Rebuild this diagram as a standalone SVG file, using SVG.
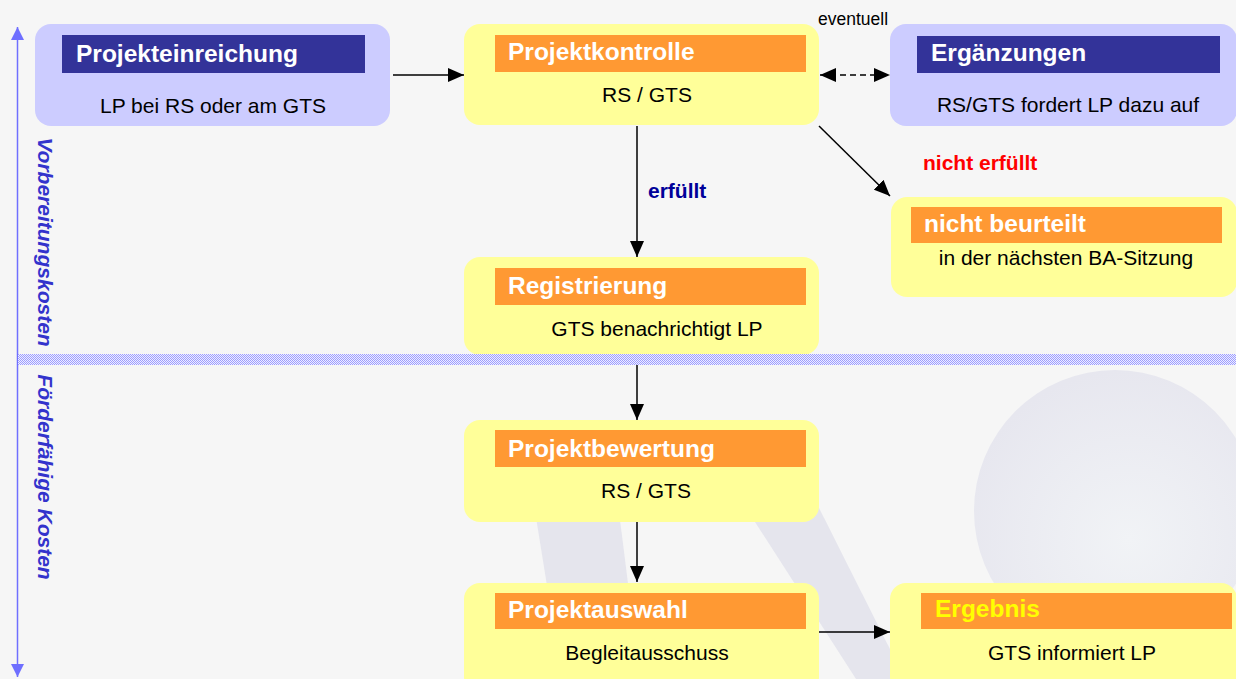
<svg xmlns="http://www.w3.org/2000/svg" width="1236" height="679" viewBox="0 0 1236 679">
<defs>
<style>
.bg{fill:#f6f6f6}
.box-y{fill:#ffff99}
.box-l{fill:#ccccff}
.hd-o{fill:#ff9933}
.hd-b{fill:#333399}
.ht{font-family:"Liberation Sans",Arial,sans-serif;font-weight:bold;font-size:24.5px;fill:#ffffff}
.bt{font-family:"Liberation Sans",Arial,sans-serif;font-size:21px;fill:#000000;text-anchor:middle}
.lbl{font-family:"Liberation Sans",Arial,sans-serif;font-weight:bold;font-size:21px}
.side{font-family:"Liberation Sans",Arial,sans-serif;font-weight:bold;font-style:italic;font-size:21px;fill:#3333cc;text-anchor:middle}
.conn{stroke:#000000;stroke-width:1.5;fill:none}
.swoosh{fill:#e5e5ed}
</style>
<marker id="ah" markerUnits="userSpaceOnUse" markerWidth="16" markerHeight="14" viewBox="0 0 16 14" refX="16" refY="7" orient="auto-start-reverse">
<path d="M0,0 L16,7 L0,14 z" fill="#000000"/>
</marker>
<marker id="axh" markerUnits="userSpaceOnUse" markerWidth="13" markerHeight="13" viewBox="0 0 13 13" refX="13" refY="6.5" orient="auto-start-reverse">
<path d="M0,0 L13,6.5 L0,13 z" fill="#6f6fff"/>
</marker>
<pattern id="chk" width="2" height="2" patternUnits="userSpaceOnUse">
<rect width="2" height="2" fill="#eeeeff"/>
<rect width="1" height="1" fill="#9d9dff"/>
<rect x="1" y="1" width="1" height="1" fill="#9d9dff"/>
</pattern>
<radialGradient id="sph" cx="0.55" cy="0.6" r="0.6">
<stop offset="0" stop-color="#f1f3f6"/>
<stop offset="1" stop-color="#e7e7ef"/>
</radialGradient>
</defs>

<rect class="bg" x="0" y="0" width="1236" height="679"/>

<g id="background">
<circle cx="1115" cy="511" r="141" fill="url(#sph)"/>
<path class="swoosh" d="M530,480 L615,480 L640,679 L562,679 Z"/>
<path class="swoosh" d="M728,480 L805,480 L905,679 L856,679 Z"/>
</g>

<g id="axis">
<line x1="17.5" y1="27" x2="17.5" y2="677" stroke="#6f6fff" stroke-width="1.5" marker-start="url(#axh)" marker-end="url(#axh)"/>
<text class="side" transform="translate(38,242) rotate(90)">Vorbereitungskosten</text>
<text class="side" transform="translate(38,477) rotate(90)">Förderfähige Kosten</text>
</g>

<g id="connectors">
<line class="conn" x1="393" y1="75" x2="464" y2="75" marker-end="url(#ah)"/>
<line class="conn" x1="820" y1="75" x2="890" y2="75" stroke-dasharray="6,4" marker-start="url(#ah)" marker-end="url(#ah)"/>
<line class="conn" x1="637" y1="126" x2="637" y2="257" marker-end="url(#ah)"/>
<line class="conn" x1="819" y1="126" x2="890" y2="196" marker-end="url(#ah)"/>
<line class="conn" x1="637" y1="365" x2="637" y2="420" marker-end="url(#ah)"/>
<line class="conn" x1="637" y1="522" x2="637" y2="582" marker-end="url(#ah)"/>
<line class="conn" x1="819" y1="632" x2="890" y2="632" marker-end="url(#ah)"/>
</g>

<g id="labels">
<text class="lbl" x="818" y="25" style="font-weight:normal;font-size:17.5px" fill="#000000">eventuell</text>
<text class="lbl" x="648" y="198" fill="#000099">erfüllt</text>
<text class="lbl" x="923" y="170" fill="#ff0000">nicht erfüllt</text>
</g>

<g id="projekteinreichung">
<rect class="box-l" x="35" y="24" width="355" height="102" rx="16"/>
<rect class="hd-b" x="62" y="35" width="303" height="38"/>
<text class="ht" x="76" y="62">Projekteinreichung</text>
<text class="bt" x="213" y="113">LP bei RS oder am GTS</text>
</g>

<g id="projektkontrolle">
<rect class="box-y" x="464" y="24" width="355" height="101" rx="16"/>
<rect class="hd-o" x="495" y="35" width="311" height="37"/>
<text class="ht" x="508" y="60">Projektkontrolle</text>
<text class="bt" x="647" y="102">RS / GTS</text>
</g>

<g id="ergaenzungen">
<rect class="box-l" x="890" y="24" width="347" height="102" rx="16"/>
<rect class="hd-b" x="917" y="36" width="303" height="37"/>
<text class="ht" x="931" y="61">Ergänzungen</text>
<text class="bt" x="1068" y="112">RS/GTS fordert LP dazu auf</text>
</g>

<g id="nicht-beurteilt">
<rect class="box-y" x="891" y="197" width="346" height="100" rx="16"/>
<rect class="hd-o" x="911" y="207" width="311" height="36"/>
<text class="ht" x="924" y="232">nicht beurteilt</text>
<text class="bt" x="1066" y="265">in der nächsten BA-Sitzung</text>
</g>

<g id="registrierung">
<rect class="box-y" x="464" y="257" width="355" height="98" rx="16"/>
<rect class="hd-o" x="495" y="268" width="311" height="37"/>
<text class="ht" x="508" y="294">Registrierung</text>
<text class="bt" x="657" y="336">GTS benachrichtigt LP</text>
</g>

<g id="separator">
<rect x="18" y="354" width="1218" height="11" fill="url(#chk)"/>
</g>

<g id="projektbewertung">
<rect class="box-y" x="464" y="420" width="355" height="102" rx="16"/>
<rect class="hd-o" x="495" y="430" width="311" height="37"/>
<text class="ht" x="508" y="457">Projektbewertung</text>
<text class="bt" x="646" y="498">RS / GTS</text>
</g>

<g id="projektauswahl">
<rect class="box-y" x="464" y="583" width="355" height="110" rx="16"/>
<rect class="hd-o" x="495" y="593" width="311" height="36"/>
<text class="ht" x="508" y="618">Projektauswahl</text>
<text class="bt" x="647" y="660">Begleitausschuss</text>
</g>

<g id="ergebnis">
<rect class="box-y" x="890" y="583" width="347" height="110" rx="16"/>
<rect class="hd-o" x="921" y="593" width="311" height="36"/>
<text class="ht" x="935" y="617" fill="#ffff00" style="fill:#ffff00">Ergebnis</text>
<text class="bt" x="1072" y="660">GTS informiert LP</text>
</g>
</svg>
